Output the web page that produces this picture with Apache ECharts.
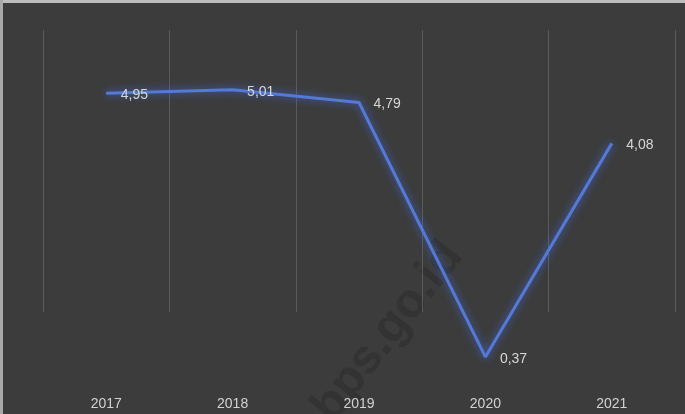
<!DOCTYPE html>
<html>
<head>
<meta charset="utf-8">
<script src="https://cdn.jsdelivr.net/npm/echarts@6/dist/echarts.min.js"></script>
<style>html,body{margin:0;padding:0;background:#3c3c3c;}#c{width:685px;height:414px;}</style>
</head>
<body>
<div id="c"></div>
<script>
const categories = ['2017', '2018', '2019', '2020', '2021'];
const values = [4.95, 5.01, 4.79, 0.37, 4.08];
const watermark = 'bps.go.id';

const chart = echarts.init(document.getElementById('c'));
chart.setOption({
  backgroundColor: '#3c3c3c',
  animation: false,
  grid: { left: 43, right: 10, top: 30, bottom: 102 },
  xAxis: {
    type: 'category',
    data: categories,
    boundaryGap: true,
    axisLine: { show: false },
    axisTick: { show: false },
    splitLine: { show: true, interval: 0, lineStyle: { color: '#5a5a5a', width: 1 } },
    axisLabel: {
      margin: 85, color: '#d2d2d2', fontSize: 14,
      fontFamily: 'Liberation Sans, Arial, sans-serif'
    }
  },
  yAxis: {
    type: 'value', min: 1.15, max: 6.05,
    show: false,
    splitLine: { show: false }
  },
  graphic: [
    { type: 'rect', shape: { x: 0, y: 0, width: 685, height: 3 }, style: { fill: '#bdbdbd' }, z: 10 },
    { type: 'rect', shape: { x: 0, y: 0, width: 3, height: 414 }, style: { fill: '#a9a9a9' }, z: 10 },
    {
      type: 'text', x: 388, y: 332, rotation: 52 * Math.PI / 180, z: 0,
      style: {
        text: watermark, fill: '#333333', fontSize: 48, fontWeight: 'bold',
        fontFamily: 'Liberation Sans, Arial, sans-serif', align: 'center', verticalAlign: 'middle'
      }
    }
  ],
  series: [{
    type: 'line',
    data: values,
    clip: false,
    symbol: 'circle',
    symbolSize: 1,
    showSymbol: true,
    itemStyle: { color: 'rgba(0,0,0,0)' },
    lineStyle: { color: '#5479d6', width: 3, shadowColor: 'rgba(70,110,230,0.9)', shadowBlur: 8 },
    label: {
      show: true, position: 'right', distance: 14, offset: [0, 2],
      color: '#d6d6d6', fontSize: 14, fontFamily: 'Liberation Sans, Arial, sans-serif',
      formatter: p => String(p.value).replace('.', ',')
    },
    z: 5
  }]
});
</script>
</body>
</html>
